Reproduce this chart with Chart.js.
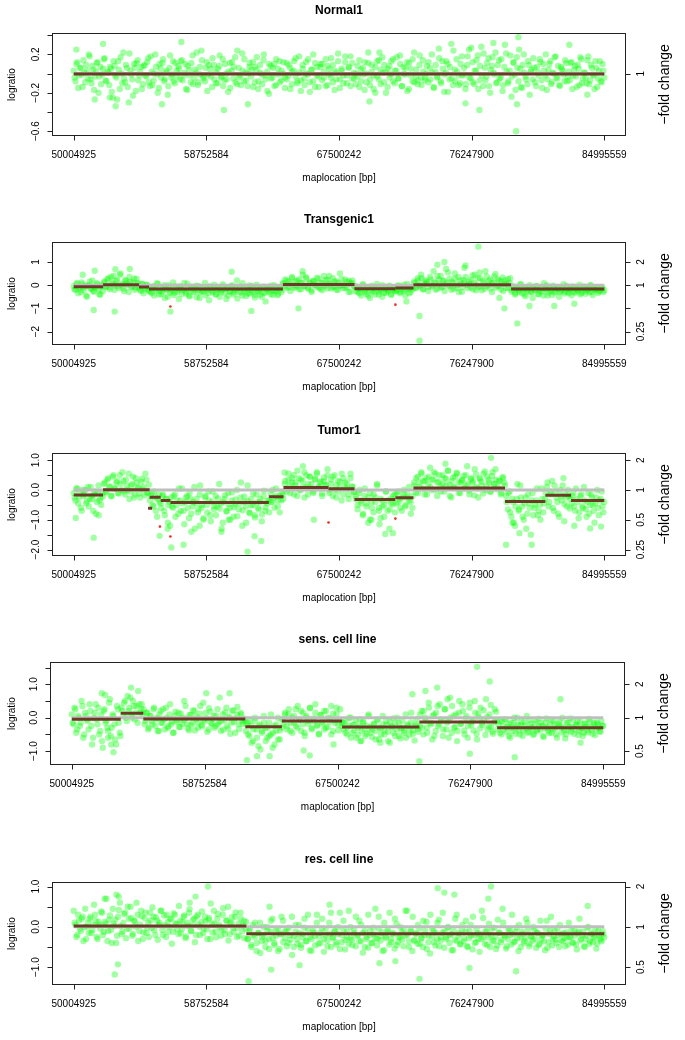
<!DOCTYPE html>
<html>
<head>
<meta charset="utf-8">
<script src="https://cdn.jsdelivr.net/npm/chart.js@4.4.1/dist/chart.umd.min.js"></script>
<style>
html, body { margin: 0; padding: 0; background: #fff; overflow: hidden; }
#page { position: relative; width: 685px; height: 1040px; }
#page canvas { position: absolute; left: 0; }
</style>
</head>
<body>
<div id="page"></div>
<script>
// probes are spread evenly from the first to the last map location (bp)
const firstProbe = 50004925;
const lastProbe = 84995559;
const xTicks = [50004925, 58752584, 67500242, 76247900, 84995559];
const xRange = [48605300, 86395184];

const panelTitles = ['Normal1', 'Transgenic1', 'Tumor1', 'sens. cell line', 'res. cell line'];

// ---- logratio x100, one value per probe (set A: on-grid probes) ----
const normal1Ratios = [
    3,-8,12,-2,6,-14,1,9,-5,18,-10,4,-3,11,-20,7,-1,15,-7,2,
    -12,5,-25,8,-4,13,-16,0,22,-9,6,-30,3,-6,10,-18,14,-2,7,-11,
    9,-3,16,-13,2,-7,20,-1,-15,5,11,-8,1,-22,6,-4,13,-10,3,8,
    -6,14,-2,10,-17,4,-9,19,-5,1,-12,7,24,-3,-8,12,-1,5,-14,9,
    2,-10,8,-4,15,-7,0,-19,11,3,-5,17,-11,6,-2,21,-8,1,-13,7,
    -3,12,-9,4,-16,9,-1,14,-6,2,-21,8,-4,10,-12,5,13,-7,0,-15,
    11,-2,6,-11,3,16,-8,1,-18,9,-5,12,-1,-9,4,20,-14,7,-3,10,
    -7,2,15,-12,5,-4,9,-17,1,13,-6,3,-10,18,-2,6,-13,11,-5,0,
    8,-14,4,-1,12,-9,22,-6,2,-16,7,-3,14,-11,1,9,-20,5,-4,13,
    -8,3,17,-5,10,-13,0,6,-18,11,-2,15,-9,4,-7,19,-12,2,-4,8,
    12,-6,1,-15,9,-3,16,-10,5,-1,13,-19,7,-5,24,-8,2,-12,10,-2,
    6,-11,18,-4,27,-9,3,14,-16,8,-2,21,-7,11,-13,4,17,-1,-10,9,
    -5,15,-12,30,2,-8,19,-3,11,-17,6,25,-14,9,1,-6,13,-22,4,16,
    -9,7,-2,12,-15,3,20,-6,10,-11,1,17,-4,8,-13,5,-1,14,-8,2,
    11,-16,4,-3,9,-12,15,-5,1,-10,18,-7,6,-2,13,-14,3,-8,10,-4
];
const transgenicRatios = [
    -5,-20,10,-12,-30,4,-9,-45,-2,15,-15,-25,-6,8,-18,-40,-1,12,-8,25,
    -10,35,5,-20,18,-4,45,0,-15,22,8,-30,14,-6,28,-12,3,-10,-25,5,
    -15,2,-20,-10,-35,-5,-22,8,-40,-15,-28,0,-18,-50,-8,-25,12,-33,-12,-20,
    -5,-38,-14,-26,6,-45,-18,-9,-30,-2,-22,-55,-12,-28,10,-16,-35,-4,-24,-14,
    -40,-8,-20,-30,4,-17,-60,-11,-25,-3,-32,-15,20,-28,-7,-45,-19,-10,-36,-1,
    -22,-13,-42,2,-27,-18,-50,-6,-31,-15,-9,-38,-21,0,-26,-44,-12,-20,10,-5,
    20,-8,5,30,-12,15,0,25,-18,8,-3,35,-10,12,-22,18,2,-6,28,-15,
    9,-2,22,-14,40,4,-9,16,-20,11,-4,26,1,-12,14,-30,7,20,-5,-25,
    -10,-35,-18,5,-28,-12,-45,-20,-2,-30,-15,-8,-40,-22,0,-33,-14,-26,-6,-38,
    -19,-11,-25,-5,-30,-15,2,-20,-10,-35,-8,-18,10,-12,20,-5,30,-18,5,15,
    -8,25,-2,12,-20,40,3,-10,18,-25,8,55,-4,15,-15,28,0,-30,20,-7,
    10,35,-12,5,22,-18,45,2,-8,30,-22,12,60,-5,18,-14,8,38,-10,25,
    -3,15,-25,20,5,-12,30,-20,-8,-35,-12,-28,5,-18,-40,-15,-25,0,-30,-10,
    -22,-5,-38,-14,-27,8,-19,-45,-11,-24,-2,-32,-16,-9,-30,-20,4,-26,-13,-35,
    -18,-6,-28,-12,-22,2,-34,-15,-9,-25,-19,0,-30,-14,-20,-8,-26,-16,-11,-22
];
const tumorRatios = [
    -10,-35,5,-25,-60,0,-15,-45,10,-30,-20,-70,-5,-40,15,-28,-12,20,-5,35,
    10,-20,45,5,25,-10,50,0,30,-15,15,55,-5,20,-25,40,8,-12,28,2,
    -18,35,-8,-35,-10,-55,-25,-90,-15,-45,-20,-70,-30,-110,-40,-25,-60,-15,-50,-80,
    -35,5,-70,-40,-20,-95,-30,-55,10,-45,-75,-15,-60,-100,-25,-50,-5,-85,-40,-65,
    -20,-55,20,-45,-110,-30,-70,-10,-60,-35,-90,-48,0,-65,-25,-120,-40,-55,15,-75,
    -30,-50,-85,-15,-60,-40,-105,-20,-70,-45,-35,-10,-40,-25,5,-55,-20,-35,-15,20,
    5,35,-10,25,50,15,-20,40,0,30,60,10,-15,45,20,-5,35,55,8,25,
    -12,30,15,50,-10,20,45,0,-25,30,10,55,-15,25,5,-30,40,12,-5,-20,
    -50,-10,-35,-80,5,-45,-25,-100,-60,-15,-40,20,-70,-30,-55,-90,-5,-35,-65,-45,
    -20,-75,-10,-40,-60,-25,0,-50,-15,-35,-80,-20,15,40,-10,25,55,5,30,-15,
    45,10,35,60,0,25,50,-5,20,40,15,65,-20,30,10,45,55,-10,25,35,
    5,50,20,-15,40,30,70,10,-25,35,15,55,0,45,25,-5,60,20,35,10,
    30,-10,40,15,-40,-10,-75,-30,-110,-55,20,-65,-25,-90,-45,-130,-15,-60,-35,-85,
    -50,5,-70,-100,-30,-45,-10,25,-40,-5,-60,15,-25,-80,0,-35,40,-15,-55,-20,
    -30,-20,-55,5,-40,-75,-15,-60,-35,-90,-10,-50,-25,-70,-45,0,-85,-30,-55,-40
];
const sensRatios = [
    10,-20,25,-35,0,-15,35,-50,5,-10,40,-25,-60,15,-5,30,-40,-70,20,-15,
    -30,45,-55,10,-20,-80,25,-45,30,5,50,-10,20,60,0,35,15,-15,40,25,
    10,-20,15,-35,5,-10,25,-25,0,-40,20,-15,-5,30,-30,10,-20,-45,5,-12,
    15,-28,0,-8,35,-20,-38,8,-15,20,-5,-30,12,-22,45,-10,-2,-35,18,-18,
    5,-25,25,-12,-40,10,-6,30,-32,0,-15,22,-45,8,-20,15,-10,-2,-40,-15,
    -55,-25,-70,-10,-35,-85,-20,-45,5,-30,-60,-15,-50,-90,-25,-40,0,-65,-30,-5,
    15,-25,10,-40,0,-15,25,-30,-5,20,-20,-45,5,-10,30,-35,-2,15,-25,-50,
    8,-18,20,-30,0,-12,35,-40,-8,12,-22,25,-15,-35,-10,-50,-25,0,-45,-20,
    -60,-30,-5,-40,-15,-55,-25,10,-45,-35,-20,-65,-8,-30,-50,5,-38,-22,-70,-12,
    -28,-45,-18,0,-55,-32,-10,-40,-60,-20,-35,15,-48,-25,-5,-42,10,-30,20,-10,
    -45,30,-20,5,-55,15,-25,40,-8,-35,25,-15,-60,0,35,-30,10,-40,50,-18,
    20,-50,5,-25,45,-12,-38,15,-65,0,30,-22,-5,55,-35,10,-28,-48,25,-10,
    -20,-45,-10,-35,-5,-28,-55,-15,-40,0,-30,-22,-50,-12,-38,-25,5,-42,-18,-32,
    -48,-8,-35,-25,-15,-55,-30,-2,-40,-20,-45,-10,-32,-60,-18,-26,0,-38,-50,-14,
    -28,-42,-6,-35,-22,-52,-12,-30,-45,-18,-38,-4,-26,-48,-15,-33,-20,-40,-10,-25
];
const resRatios = [
    40,5,-20,15,-10,25,0,-30,10,20,-15,5,30,-25,12,-5,35,-12,8,-35,
    18,-8,45,2,-40,25,60,-18,10,35,-5,20,50,-22,15,0,30,-10,40,-30,
    22,-15,10,35,-3,25,-20,15,5,40,-8,28,-25,12,0,20,-12,30,8,-18,
    15,-5,25,-28,10,35,-10,5,20,-20,30,0,12,-15,25,-6,18,-30,8,40,
    -12,20,5,-22,30,-8,15,50,-18,10,-3,25,-25,8,35,-10,15,-5,-30,-10,
    -45,5,-25,-60,-15,10,-35,-20,-50,0,-30,-12,20,-40,-22,-5,-55,-18,15,-28,
    -8,-40,-20,25,-50,-12,-30,5,-45,-18,-2,-35,30,-25,-60,-10,-22,10,-42,-15,
    20,-30,-5,-48,-18,35,-25,-10,-38,0,-55,-20,15,-32,-12,40,-28,-45,-8,25,
    -20,-35,5,-15,-50,-25,30,-10,-40,-18,45,-30,-5,-22,-60,10,-28,-12,35,-38,
    -15,20,-45,-25,0,-32,-8,40,-20,-50,-12,25,-35,-18,5,-42,-28,15,-10,-55,
    -22,30,-5,-38,-15,10,-48,-25,35,-12,-30,0,-20,-58,-8,20,-35,-16,-42,5,
    -28,15,-50,-10,-22,25,-40,-5,-30,-18,40,-26,-12,-45,8,-20,-35,-2,-55,18,
    -15,-32,10,-24,-48,-6,-20,30,-38,-12,-28,5,-50,-18,-35,20,-8,-42,-25,0,
    -30,-14,-45,15,-22,-36,-4,-52,-18,25,-30,-10,-40,-20,5,-34,-16,-48,-26,10,
    -24,-38,-8,-44,-16,20,-30,-12,-50,-22,0,-36,-18,-28,-6,-42,-20,-32,-10,-26
];

// ---- logratio x100, set B: probes lying between the set A probes ----
const normal1RatiosB = [
    -4,10,-15,6,-1,14,-9,3,20,-6,8,-17,2,12,-3,-11,5,16,-8,1,
    7,-19,13,-2,-27,4,17,-10,-5,9,-14,21,-1,-23,6,11,-7,2,-16,8,
    -2,12,-9,18,-12,0,7,-20,10,-4,15,-6,3,-13,19,-1,-8,11,-3,5,
    13,-7,1,-16,8,-2,11,-11,4,22,-9,-1,14,-5,6,-18,9,-3,16,-6,
    -10,5,19,-3,-13,10,-6,2,-15,12,7,-9,24,-4,-12,3,15,-7,0,11,
    4,-14,7,17,-8,1,-11,20,-2,-18,10,-5,6,-13,15,-1,-9,3,12,-4,
    -6,9,-16,2,13,-3,-10,18,-7,5,-12,0,15,-19,4,-8,11,-2,-14,7,
    10,-4,-13,8,-1,16,-9,3,-6,21,-15,5,-2,12,-10,7,18,-5,1,-11,
    -3,14,-8,6,-17,0,11,-12,9,-2,-20,13,-6,4,17,-9,2,-14,8,-1,
    15,-10,3,-5,19,-13,7,-1,12,-16,5,-8,22,-3,-11,9,-4,14,-7,0,
    -9,6,20,-14,2,-4,26,-8,13,-19,1,10,-6,31,-12,4,15,-2,-10,18,
    -1,-16,9,25,-5,12,-11,3,19,-7,28,-13,6,-3,16,-20,8,1,22,-9,
    14,-4,-18,7,21,-10,3,-24,12,-1,17,-8,5,-15,20,-3,-11,9,2,-6,
    6,-13,1,15,-7,10,-2,-17,4,13,-9,0,18,-5,-12,7,3,-8,11,-3,
    -7,12,-2,8,-14,5,17,-10,1,-4,14,-11,9,-1,-16,6,-5,13,-9,3
];
const transgenicRatiosB = [
    -18,5,-35,-8,12,-22,-3,-50,0,-14,20,-28,-10,3,-40,-6,-25,
    15,-5,30,-18,8,40,-2,22,-12,50,5,-25,18,0,35,-8,12,-20,28,10,
    -20,5,-35,-10,0,-25,
    -30,-8,-45,-15,5,-25,-38,-12,-55,-20,
    0,-33,-18,-42,-5,-28,-60,-14,-22,10,
    -36,-19,-48,-7,-26,-16,-52,-3,-31,-24,
    -11,-44,-20,-65,-9,-29,2,-38,-17,-50,
    -23,-6,-35,-14,-45,-27,-1,-40,-21,-58,
    -12,-32,8,-26,-47,-18,-36,-4,-30,-53,
    -15,-24,-41,-10,-34,-70,-19,-28,-2,-43,
    -25,-13,-37,-8,-30,
    5,25,-12,15,-25,35,0,-8,20,-18,
    10,45,-5,28,-15,8,-30,18,2,32,
    -10,12,-22,40,-3,22,6,-14,30,-6,
    15,-20,50,0,-12,25,-8,18,-28,10,-4,
    -5,-30,-15,-45,0,-22,-38,-10,-55,-25,-12,-40,5,-28,-18,-50,-8,-33,-20,-2,-42,-14,-26,
    -20,0,-35,-8,-25,-45,5,-15,-30,-10,
    15,-10,30,0,45,-18,20,8,-25,35,
    -5,60,12,-15,25,40,-8,18,70,-2,
    28,-20,10,50,-12,35,5,-28,22,85,
    0,15,-10,42,8,-22,30,55,-6,18,
    -15,38,2,25,-30,12,48,-4,20,-18,
    33,5,-12,26,10,
    -28,-5,-40,-15,-22,2,-35,-12,-48,-20,
    -8,-30,-55,-18,-3,-38,-25,-10,-45,-16,
    0,-32,-21,-42,-7,-27,-14,-50,-24,-11,
    -36,-2,-29,-19,-44,-9,-33,-23,-13,-40,
    -26,-6,-37,-17,-31,-1,-43,-20,-15,-34,
    -25,-10,-30
];
const tumorRatiosB = [
    -25,5,-45,-12,-70,-20,0,-38,-55,10,-30,-15,-80,-8,-35,-50,-22,
    25,-8,40,12,-20,50,5,30,-12,20,60,-5,35,0,-30,15,45,-15,25,8,-25,38,10,55,-10,18,
    -20,-50,-5,-70,-30,-40,
    -60,-15,-85,-30,-50,-120,
    -55,-20,-90,-35,5,-70,-45,-115,-25,-60,
    -10,-80,-40,-130,-30,-65,15,-50,-95,-20,
    -75,-35,-105,-5,-55,-85,-28,-62,-140,-40,
    -18,-72,-48,-100,-8,-58,-32,-88,-45,25,
    -68,-22,-110,-38,-78,-52,-12,-92,-42,-65,
    -30,-82,-2,-58,-36,-75,
    -40,0,-60,-20,-35,-75,-10,-30,
    30,-5,55,15,40,-15,25,65,0,35,10,-25,50,20,45,5,-10,38,60,12,28,-20,42,18,70,
    0,35,-20,50,15,-5,28,-35,40,8,22,-15,55,10,-8,
    -30,-65,0,-45,-85,-20,-55,-110,-10,-40,-75,-25,15,-60,-95,-35,-50,-5,-70,-130,-28,-48,-15,
    -45,-5,-30,-70,-15,-55,-25,10,-40,-60,
    25,-8,45,10,60,30,-15,40,20,75,
    0,35,55,-20,28,12,50,-5,38,65,
    18,-25,42,8,58,25,-10,32,48,15,
    80,-2,36,22,-18,52,5,40,28,-12,
    62,14,34,-6,46,20,70,2,30,-15,
    44,24,
    -20,-65,-5,-90,-40,-120,-30,-70,15,-55,-100,-25,-80,-45,-150,-10,-60,-35,-85,-50,5,-75,
    -30,10,-55,-15,30,-70,-5,-40,-90,-20,15,-48,-25,0,-62,
    -45,-10,-70,-30,-95,-20,-55,10,-65,-40,-80,-15,-50,-110,-25,-60,-35,-5,-75
];
const sensRatiosB = [
    -15,30,-45,5,-25,50,-60,15,-5,-35,20,-80,0,40,-20,-50,10,-90,25,-10,-40,55,-30,5,-65,35,-15,-55,
    20,45,0,65,30,10,50,-5,35,80,15,40,25,
    -10,15,-30,5,-20,30,-5,-40,10,-15,
    25,-35,0,-25,40,-12,-45,18,-8,-28,
    12,-18,50,-2,-32,8,-22,22,-38,3,
    -14,35,-26,-6,14,-42,28,-16,-4,-30,
    6,-20,60,-10,-36,16,-24,2,-48,20,
    -12,-2,32,-34,10,-18,-8,
    -20,-50,-10,-75,-35,0,-60,-25,-95,-40,-15,-70,-30,-55,10,-45,-80,-20,-65,-38,-5,
    -20,10,-35,25,-15,-45,5,-25,35,-8,-40,15,-55,0,-18,28,-30,-10,40,-22,-48,8,-12,-35,20,-28,-2,-50,12,-16,30,-38,-6,-25,
    -15,-45,-30,0,-60,-22,-38,-8,-52,-25,
    -70,-12,-35,-48,5,-28,-58,-18,-40,-5,
    -65,-32,-20,-50,-10,-42,-75,-26,-2,-55,
    -36,-16,-62,-30,-45,10,-24,-52,-14,-38,
    -68,-20,-34,
    -25,20,-50,0,-30,45,-15,-65,10,-40,
    35,-20,-5,-55,25,-35,-10,60,-45,5,
    -28,-70,15,-18,40,-38,-2,-60,30,-22,
    -8,50,-48,12,-32,-15,22,-52,2,-26,
    38,-42,-12,18,
    -35,-10,-50,-25,-5,-42,-20,-60,-30,-15,
    -48,0,-38,-22,-55,-12,-32,-45,-8,-28,
    -52,-18,-40,-3,-36,-24,-58,-14,-30,-46,
    -6,-34,-20,-50,-26,-10,-44,-30,-62,-16,
    -38,-2,-28,-48,-22,-12,-40,-32,-55,-18,
    -26,-44,-8,-36,-20,-52,-14,-30,-42,-24
];
const resRatiosB = [
    10,-25,30,-5,20,-35,45,0,-15,25,
    -8,55,15,-30,5,38,-20,12,70,-10,
    28,-40,8,18,-22,42,2,-12,32,-28,
    50,-5,22,-18,14,60,-35,6,26,-14,
    36,-2,-25,16,48,-8,24,-32,10,40,
    -20,4,30,-12,20,-42,34,8,-6,52,
    -16,12,28,-24,2,44,-10,18,-38,26,
    6,-20,38,-4,14,-30,22,58,-14,8,
    -26,32,0,-8,46,-18,16,-34,10,24,
    -12,36,-2,-22,20,4,-28,12,
    -30,-5,-50,-20,10,-40,-15,-65,-25,0,
    -35,-10,-55,15,-28,-45,-8,-60,-18,25,
    -38,-12,-48,-2,-32,-70,-22,5,-42,-16,
    -52,-26,20,-36,-6,-58,-30,-14,-46,30,
    -24,-40,-4,-62,-20,-34,10,-50,-28,-12,
    -44,-18,35,-38,-8,-56,-26,-42,0,-32,
    -16,-48,-22,15,-36,-64,-10,-30,-52,-20,
    -40,-2,-28,-46,25,-34,-14,-58,-24,-6,
    -44,-30,-18,-54,8,-38,-26,-12,-48,-22,
    40,-36,-8,-60,-32,-16,-42,-4,-28,-50,
    -20,12,-38,-66,-24,-10,-46,-30,18,-34,
    -14,-52,-26,-2,-40,-18,-58,-32,30,-22,
    -44,-8,-36,-12,-48,-28,5,-56,-20,-38,
    -16,-62,-30,22,-42,-10,-26,-50,-4,-34,
    -24,-46,-14,-38,45,-20,-54,-30,-8,-44,
    -18,-36,-2,-60,-26,-12,-40,-28,10,-48,
    -22,-34,-6,-52,-16,-42,-30,-20,-58,15,
    -38,-10,-46,-24,-32,-4,-50,-18,-36,-28,
    -14,-44,-26,-8,-40,-22,-56,-12,-34,-20,
    -48,-30,-2,-42,-16,-38,-24,-54,-10,-28,
    -36,-18
];

// ---- outlying probes: [position Mb, logratio] ----
const normal1Extra = [[79.33,0.38],[79.18,-0.60],[57.10,0.33],[51.94,0.31],[50.18,0.25],[59.91,-0.38],
    [61.49,-0.32],[55.82,-0.32],[52.77,-0.34],[69.51,-0.29],[77.68,0.32],[82.69,0.30],[75.84,-0.31],
    [76.76,-0.38],[79.24,-0.32],[70.17,0.22],[51.39,-0.27],[52.38,-0.25],[83.88,-0.22]];
const transgenicExtra = [[51.32,-1.07],[52.71,-1.14],[52.75,0.69],[56.38,-1.14],[60.42,0.58],[61.72,-1.11],
    [64.83,-1.0],[65.10,0.6],[72.81,-2.4],[72.81,-1.33],[73.99,0.88],[74.45,1.0],[76.69,1.66],[79.26,-1.65],
    [75.77,0.75],[78.08,-0.55],[80.06,-0.9],[71.95,-0.7],[78.41,-1.0],[83.02,-0.8],[81.70,-0.9],
    [51.39,0.62],[53.70,0.7],[50.60,0.45]];
const tumorExtra = [[51.32,-1.6],[50.14,-0.94],[61.47,-2.07],[62.37,-1.71],[56.44,-1.93],[57.25,-1.84],
    [55.67,-1.54],[57.76,-1.4],[65.12,0.8],[63.91,0.59],[77.53,1.08],[74.52,0.88],[78.52,-1.84],[80.21,-1.84],
    [70.55,-1.48],[71.05,-1.45],[84.06,-1.29],[84.78,-1.23],[65.84,-1.0],[58.31,-1.2],[59.76,-1.3],
    [61.93,-1.55],[79.40,-1.45],[78.94,-1.1],[82.36,-1.05],[83.02,-1.2],[51.65,-0.85],[56.20,-1.3],
    [60.22,-1.0],[69.64,-1.0],[70.17,-1.15]];
const sensExtra = [[76.69,1.52],[77.52,1.08],[74.06,0.9],[72.89,-1.3],[76.21,-1.08],[79.17,-1.18],
    [61.54,-1.27],[62.20,-1.15],[63.03,-1.15],[52.75,-1.03],[53.91,0.9],[51.98,0.73],[58.86,0.73],
    [60.39,0.73],[65.27,-0.98],[65.67,-1.13],[67.24,-0.8],[52.60,-0.8],[52.40,-0.6],[52.20,0.68],
    [72.43,0.7],[73.29,0.8],[74.74,0.55],[82.18,0.55],[70.32,-0.75],[69.00,-0.7],[83.50,-0.75]];
const resExtra = [[58.86,1.0],[52.71,-1.18],[52.92,-0.93],[61.54,-1.35],[62.92,0.5],[63.03,-1.06],
    [74.01,0.96],[77.53,1.0],[72.81,-1.29],[79.18,-1.1],[76.10,-1.02],[83.90,0.52],[52.82,0.8],
    [52.97,0.75],[52.05,0.7],[57.65,0.6],[58.04,0.75],[64.90,-0.95],[70.17,-0.9],[71.22,-0.85],
    [75.11,0.8],[77.35,0.7],[74.45,0.85],[66.88,0.55]];

// ---- flagged probes (red): [position Mb, logratio] ----
const transgenicFlagged = [[56.38,-0.92],[71.22,-0.84]];
const tumorFlagged = [[55.69,-1.23],[56.38,-1.56],[66.81,-1.09],[71.22,-0.96]];

// ---- segments: boundaries in Mb, mean logratio per segment ----
const normal1Bounds = [50.005, 84.996];
const normal1Levels = [-0.005];
const transgenicBounds = [50.005, 51.94, 54.31, 54.97, 63.80, 68.52, 71.22, 72.41, 78.85, 84.996];
const transgenicLevels = [-0.07, 0.02, -0.08, -0.17, 0.03, -0.16, -0.12, 0.02, -0.17];
const tumorBounds = [50.005, 51.94, 55.01, 55.74, 56.38, 62.87, 63.84, 66.81, 68.52, 71.22, 72.41, 78.45, 81.11, 82.80, 84.996];
const tumorLevels = [-0.17, 0.01, -0.24, -0.35, -0.42, -0.23, 0.08, 0.04, -0.32, -0.26, 0.07, -0.39, -0.18, -0.35];
const tumorSingle = [[54.91, 55.18, -0.61]];
const sensBounds = [50.005, 53.23, 54.72, 61.43, 63.84, 67.80, 72.89, 78.01, 84.996];
const sensLevels = [-0.05, 0.13, -0.04, -0.27, -0.10, -0.28, -0.13, -0.30];
const resBounds = [50.005, 61.39, 84.996];
const resLevels = [0.02, -0.17];

// ---- axes ----
const yLimits = [[-0.645, 0.418], [-2.56, 1.84], [-2.2, 1.226], [-1.4, 1.65], [-1.43, 1.1]];
const leftTicks = [
    [0.4, 0.2, 0, -0.2, -0.4, -0.6],
    [1, 0, -1, -2],
    [1, 0.5, 0, -0.5, -1, -1.5, -2],
    [1.5, 1, 0.5, 0, -0.5, -1],
    [1, 0.5, 0, -0.5, -1]
];
const leftLabels = [
    ['', '0.2', '', '\u22120.2', '', '\u22120.6'],
    ['1', '0', '\u22121', '\u22122'],
    ['1.0', '', '0.0', '', '\u22121.0', '', '\u22122.0'],
    ['', '1.0', '', '0.0', '', '\u22121.0'],
    ['1.0', '', '0.0', '', '\u22121.0']
];
const foldTicks = [[1], [2, 1, 0.5, 0.25], [2, 1, 0.5, 0.25], [2, 1, 0.5], [2, 1, 0.5]];
const foldLabels = [['1'], ['2', '1', '', '0.25'], ['2', '1', '0.5', '0.25'], ['2', '1', '0.5'], ['2', '1', '0.5']];

// ---- layout ----
const panelTops = [0, 209, 420, 629, 849];
const boxLeft = [52.5, 52.5, 52.5, 50.5, 52.5];
const boxRight = [625.5, 625.5, 625.5, 624.5, 625.5];
const CANVAS_W = 685;
const CANVAS_H = 190;
const FONT = '"Liberation Sans", Arial, Helvetica, sans-serif';

const POINT_GREEN = 'rgba(0, 255, 0, 0.36)';
const SEGMENT_BROWN = '#6d3a27';
const ZERO_GRAY = '#bebebe';
const FLAG_RED = '#e3301c';

const rFrame = {
    id: 'rFrame',
    afterDatasetsDraw(chart, args, opts) {
        const { ctx, chartArea: a } = chart;
        const x = chart.scales.x;
        const y = chart.scales.y;
        const cx = (a.left + a.right) / 2;
        const cy = (a.top + a.bottom) / 2;

        ctx.save();
        ctx.strokeStyle = '#222';
        ctx.lineWidth = 1;
        ctx.strokeRect(a.left, a.top, a.right - a.left, a.bottom - a.top);

        ctx.beginPath();
        xTicks.forEach((v) => {
            const px = Math.round(x.getPixelForValue(v)) + 0.5;
            ctx.moveTo(px, a.bottom);
            ctx.lineTo(px, a.bottom + 5);
        });
        opts.leftTicks.forEach((v) => {
            const py = Math.round(y.getPixelForValue(v)) + 0.5;
            ctx.moveTo(a.left, py);
            ctx.lineTo(a.left - 5, py);
        });
        opts.foldTicks.forEach((f) => {
            const py = Math.round(y.getPixelForValue(Math.log2(f))) + 0.5;
            ctx.moveTo(a.right, py);
            ctx.lineTo(a.right + 5, py);
        });
        ctx.stroke();

        const rotated = (text, px, py) => {
            ctx.save();
            ctx.translate(px, py);
            ctx.rotate(-Math.PI / 2);
            ctx.fillText(text, 0, 0);
            ctx.restore();
        };

        ctx.fillStyle = '#000';
        ctx.textAlign = 'center';
        ctx.textBaseline = 'middle';
        ctx.font = '10px ' + FONT;
        xTicks.forEach((v) => ctx.fillText(String(v), x.getPixelForValue(v), a.bottom + 20));
        ctx.fillText('maplocation [bp]', cx, a.bottom + 43);
        opts.leftTicks.forEach((v, i) => {
            if (opts.leftLabels[i]) {
                rotated(opts.leftLabels[i], a.left - 16, y.getPixelForValue(v));
            }
        });
        rotated('logratio', 12, cy);
        opts.foldTicks.forEach((f, i) => {
            if (opts.foldLabels[i]) {
                rotated(opts.foldLabels[i], a.right + 16, y.getPixelForValue(Math.log2(f)));
            }
        });

        ctx.font = '14px ' + FONT;
        rotated('\u2212fold change', a.right + 40, cy);

        ctx.font = 'bold 12px ' + FONT;
        ctx.fillText(opts.title, cx, a.top - 23);
        ctx.restore();
    }
};

const panels = [
    { ratios: normal1Ratios, ratiosB: normal1RatiosB, extra: normal1Extra, flagged: [], bounds: normal1Bounds, levels: normal1Levels, single: [] },
    { ratios: transgenicRatios, ratiosB: transgenicRatiosB, extra: transgenicExtra, flagged: transgenicFlagged, bounds: transgenicBounds, levels: transgenicLevels, single: [] },
    { ratios: tumorRatios, ratiosB: tumorRatiosB, extra: tumorExtra, flagged: tumorFlagged, bounds: tumorBounds, levels: tumorLevels, single: tumorSingle },
    { ratios: sensRatios, ratiosB: sensRatiosB, extra: sensExtra, flagged: [], bounds: sensBounds, levels: sensLevels, single: [] },
    { ratios: resRatios, ratiosB: resRatiosB, extra: resExtra, flagged: [], bounds: resBounds, levels: resLevels, single: [] }
];

function segmentDataset(x0, x1, level) {
    return {
        data: [{ x: x0, y: level }, { x: x1, y: level }],
        showLine: true,
        borderColor: SEGMENT_BROWN,
        borderWidth: 3,
        borderCapStyle: 'butt',
        pointRadius: 0,
        order: 2
    };
}

const page = document.getElementById('page');

panels.forEach((p, k) => {
    const canvas = document.createElement('canvas');
    canvas.width = CANVAS_W;
    canvas.height = CANVAS_H;
    canvas.style.top = panelTops[k] + 'px';
    page.appendChild(canvas);

    const span = lastProbe - firstProbe;
    const stepA = span / (p.ratios.length - 1);
    const stepB = span / p.ratiosB.length;
    const cloud = p.ratios.map((v, i) => ({ x: firstProbe + i * stepA, y: v / 100 }));
    p.ratiosB.forEach((v, i) => cloud.push({ x: firstProbe + (i + 0.5) * stepB, y: v / 100 }));
    p.extra.forEach(([mb, v]) => cloud.push({ x: mb * 1e6, y: v }));

    const datasets = [
        {
            data: cloud,
            pointRadius: 3.2,
            pointBorderWidth: 0,
            pointBackgroundColor: POINT_GREEN,
            pointBorderColor: 'transparent',
            order: 5
        },
        {
            data: [{ x: firstProbe, y: 0 }, { x: lastProbe, y: 0 }],
            showLine: true,
            borderColor: ZERO_GRAY,
            borderWidth: 3,
            borderCapStyle: 'butt',
            pointRadius: 0,
            order: 3
        }
    ];
    p.levels.forEach((lv, i) => datasets.push(segmentDataset(p.bounds[i] * 1e6, p.bounds[i + 1] * 1e6, lv)));
    p.single.forEach(([s, e, lv]) => datasets.push(segmentDataset(s * 1e6, e * 1e6, lv)));
    if (p.flagged.length) {
        datasets.push({
            data: p.flagged.map(([mb, v]) => ({ x: mb * 1e6, y: v })),
            pointRadius: 1.3,
            pointBorderWidth: 0,
            pointBackgroundColor: FLAG_RED,
            order: 1
        });
    }

    new Chart(canvas.getContext('2d'), {
        type: 'scatter',
        data: { datasets },
        options: {
            responsive: false,
            animation: false,
            devicePixelRatio: 1,
            layout: {
                padding: {
                    left: boxLeft[k],
                    right: CANVAS_W - boxRight[k],
                    top: 33.5,
                    bottom: CANVAS_H - 135.5
                }
            },
            scales: {
                x: { type: 'linear', min: xRange[0], max: xRange[1], display: false },
                y: { type: 'linear', min: yLimits[k][0], max: yLimits[k][1], display: false }
            },
            plugins: {
                legend: { display: false },
                tooltip: { enabled: false },
                rFrame: {
                    title: panelTitles[k],
                    leftTicks: leftTicks[k],
                    leftLabels: leftLabels[k],
                    foldTicks: foldTicks[k],
                    foldLabels: foldLabels[k]
                }
            }
        },
        plugins: [rFrame]
    });
});
</script>
</body>
</html>
